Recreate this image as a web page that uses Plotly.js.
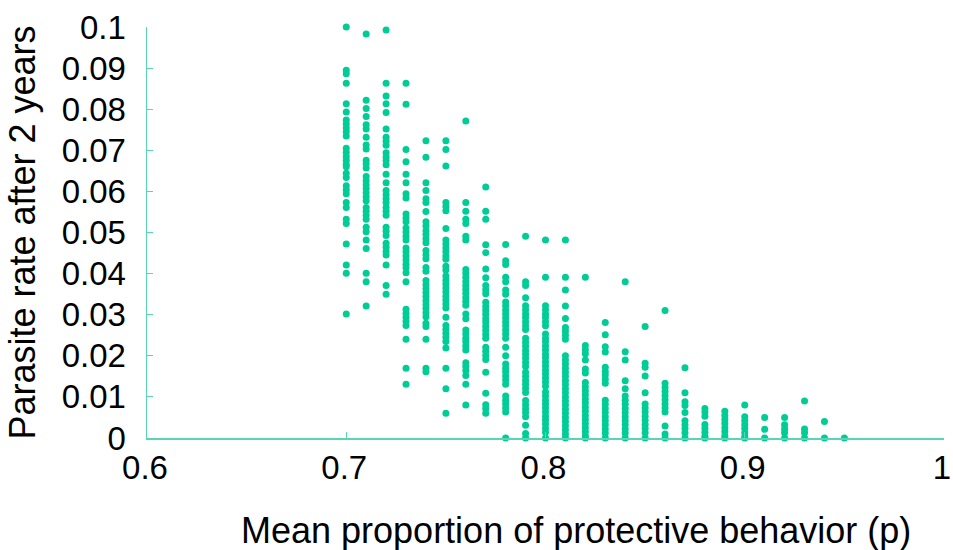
<!DOCTYPE html>
<html>
<head>
<meta charset="utf-8">
<script src="https://cdn.plot.ly/plotly-3.0.1.min.js"></script>
<style>html,body{margin:0;padding:0;background:#fff;}#chart{width:953px;height:550px;}</style>
</head>
<body>
<div id="chart"></div>
<script>
// Mean proportion of protective behavior (p) for each column of points
const pLevels = [0.70, 0.71, 0.72, 0.73, 0.74, 0.75, 0.76, 0.77, 0.78, 0.79, 0.80, 0.81, 0.82,
                 0.83, 0.84, 0.85, 0.86, 0.87, 0.88, 0.89, 0.90, 0.91, 0.92, 0.93, 0.94, 0.95];

// Parasite rate after 2 years, one array per p level
const r070 = [0.100, 0.0895, 0.0886, 0.0863, 0.0813, 0.0793, 0.0774, 0.0764, 0.0754, 0.0745, 0.0735, 0.0705, 0.0695, 0.0685, 0.0676, 0.0666, 0.0660, 0.0644, 0.0634, 0.0614, 0.0604, 0.0594, 0.0573, 0.0561, 0.0532, 0.0522, 0.0472, 0.0421, 0.0401, 0.0302];
const r071 = [0.0983, 0.0822, 0.0802, 0.0782, 0.0762, 0.0752, 0.0732, 0.0713, 0.0703, 0.0676, 0.0667, 0.0657, 0.0636, 0.0626, 0.0616, 0.0607, 0.0597, 0.0587, 0.0577, 0.0561, 0.0552, 0.0542, 0.0532, 0.0513, 0.0502, 0.0482, 0.0461, 0.0401, 0.0380, 0.0321];
const r072 = [0.0993, 0.0863, 0.0832, 0.0813, 0.0792, 0.0752, 0.0732, 0.0722, 0.0712, 0.0694, 0.0684, 0.0675, 0.0665, 0.0642, 0.0621, 0.0602, 0.0592, 0.0582, 0.0573, 0.0561, 0.0552, 0.0542, 0.0513, 0.0503, 0.0493, 0.0474, 0.0464, 0.0454, 0.0445, 0.0421, 0.0371, 0.0350];
const r073 = [0.0863, 0.0812, 0.0702, 0.0672, 0.0642, 0.0621, 0.0594, 0.0584, 0.0545, 0.0535, 0.0526, 0.0511, 0.0501, 0.0491, 0.0482, 0.0462, 0.0453, 0.0443, 0.0433, 0.0423, 0.0414, 0.0402, 0.0380, 0.0313, 0.0303, 0.0294, 0.0284, 0.0274, 0.0240, 0.0170, 0.0131];
const r074 = [0.0723, 0.0683, 0.0621, 0.0602, 0.0582, 0.0573, 0.0551, 0.0526, 0.0516, 0.0504, 0.0495, 0.0485, 0.0475, 0.0456, 0.0446, 0.0436, 0.0415, 0.0406, 0.0383, 0.0373, 0.0363, 0.0354, 0.0344, 0.0334, 0.0324, 0.0315, 0.0305, 0.0295, 0.0279, 0.0271, 0.0240, 0.0170, 0.0161];
const r075 = [0.0723, 0.0702, 0.0662, 0.0573, 0.0563, 0.0553, 0.0510, 0.0482, 0.0472, 0.0462, 0.0453, 0.0443, 0.0435, 0.0418, 0.0409, 0.0394, 0.0384, 0.0375, 0.0365, 0.0355, 0.0345, 0.0336, 0.0326, 0.0316, 0.0294, 0.0274, 0.0264, 0.0255, 0.0245, 0.0235, 0.0219, 0.0170, 0.0120, 0.0060];
const r076 = [0.0771, 0.0573, 0.0552, 0.0532, 0.0522, 0.0491, 0.0482, 0.0410, 0.0401, 0.0391, 0.0381, 0.0371, 0.0362, 0.0352, 0.0342, 0.0333, 0.0323, 0.0302, 0.0290, 0.0263, 0.0253, 0.0243, 0.0234, 0.0224, 0.0214, 0.0183, 0.0174, 0.0164, 0.0152, 0.0131, 0.0080];
const r077 = [0.0611, 0.0552, 0.0532, 0.0470, 0.0451, 0.0411, 0.0390, 0.0371, 0.0361, 0.0351, 0.0330, 0.0320, 0.0311, 0.0301, 0.0291, 0.0282, 0.0272, 0.0262, 0.0252, 0.0243, 0.0221, 0.0211, 0.0201, 0.0191, 0.0160, 0.0109, 0.0081, 0.0071, 0.0060];
const r078 = [0.0471, 0.0431, 0.0422, 0.0391, 0.0380, 0.0360, 0.0350, 0.0331, 0.0321, 0.0311, 0.0302, 0.0292, 0.0282, 0.0273, 0.0263, 0.0253, 0.0243, 0.0221, 0.0200, 0.0180, 0.0170, 0.0161, 0.0151, 0.0141, 0.0131, 0.0102, 0.0092, 0.0083, 0.0073, 0.0063, 0.0000];
const r079 = [0.0491, 0.0380, 0.0371, 0.0341, 0.0322, 0.0312, 0.0302, 0.0293, 0.0283, 0.0273, 0.0264, 0.0243, 0.0233, 0.0223, 0.0213, 0.0204, 0.0194, 0.0184, 0.0174, 0.0160, 0.0150, 0.0140, 0.0131, 0.0121, 0.0111, 0.0091, 0.0081, 0.0071, 0.0062, 0.0052, 0.0031, 0.0011, 0.0000];
const r080 = [0.0482, 0.0391, 0.0322, 0.0312, 0.0302, 0.0293, 0.0283, 0.0273, 0.0253, 0.0243, 0.0234, 0.0224, 0.0214, 0.0204, 0.0195, 0.0185, 0.0175, 0.0165, 0.0156, 0.0146, 0.0136, 0.0126, 0.0112, 0.0102, 0.0092, 0.0083, 0.0073, 0.0063, 0.0053, 0.0044, 0.0034, 0.0024, 0.0014, 0.0000];
const r081 = [0.0482, 0.0391, 0.0360, 0.0321, 0.0291, 0.0269, 0.0260, 0.0250, 0.0240, 0.0200, 0.0190, 0.0180, 0.0170, 0.0160, 0.0150, 0.0140, 0.0130, 0.0120, 0.0110, 0.0100, 0.0090, 0.0080, 0.0070, 0.0060, 0.0050, 0.0040, 0.0030, 0.0020, 0.0010, 0.0000];
const r082 = [0.0391, 0.0225, 0.0215, 0.0205, 0.0190, 0.0168, 0.0158, 0.0135, 0.0125, 0.0115, 0.0105, 0.0095, 0.0085, 0.0075, 0.0065, 0.0055, 0.0045, 0.0035, 0.0025, 0.0015, 0.0005, 0.0000];
const r083 = [0.0281, 0.0251, 0.0222, 0.0209, 0.0172, 0.0162, 0.0153, 0.0143, 0.0133, 0.0092, 0.0082, 0.0072, 0.0062, 0.0052, 0.0042, 0.0032, 0.0022, 0.0012, 0.0000];
const r084 = [0.0380, 0.0210, 0.0190, 0.0139, 0.0120, 0.0102, 0.0092, 0.0082, 0.0072, 0.0062, 0.0052, 0.0042, 0.0032, 0.0022, 0.0012, 0.0000];
const r085 = [0.0271, 0.0182, 0.0172, 0.0151, 0.0110, 0.0083, 0.0073, 0.0063, 0.0053, 0.0043, 0.0033, 0.0023, 0.0013, 0.0000];
const r086 = [0.0310, 0.0133, 0.0123, 0.0113, 0.0103, 0.0093, 0.0083, 0.0073, 0.0063, 0.0029, 0.0010, 0.0000];
const r087 = [0.0171, 0.0110, 0.0088, 0.0079, 0.0062, 0.0042, 0.0032, 0.0023, 0.0013, 0.0000];
const r088 = [0.0072, 0.0063, 0.0053, 0.0033, 0.0024, 0.0014, 0.0004, 0.0000];
const r089 = [0.0065, 0.0055, 0.0045, 0.0035, 0.0025, 0.0015, 0.0005, 0.0000];
const r090 = [0.0080, 0.0052, 0.0042, 0.0032, 0.0023, 0.0013, 0.0003, 0.0000];
const r091 = [0.0050, 0.0021, 0.0000];
const r092 = [0.0050, 0.0032, 0.0022, 0.0013, 0.0000];
const r093 = [0.0090, 0.0022, 0.0013, 0.0000];
const r094 = [0.0040, 0.0000];
const r095 = [0.0000];

const rateColumns = [r070, r071, r072, r073, r074, r075, r076, r077, r078, r079, r080, r081, r082,
                     r083, r084, r085, r086, r087, r088, r089, r090, r091, r092, r093, r094, r095];

// Axis ticks
const xTickVals = [0.6, 0.7, 0.8, 0.9, 1.0];
const xTickText = ['0.6', '0.7', '0.8', '0.9', '1'];
const yTickVals = [0, 0.01, 0.02, 0.03, 0.04, 0.05, 0.06, 0.07, 0.08, 0.09, 0.1];
const yTickText = ['0', '0.01', '0.02', '0.03', '0.04', '0.05', '0.06', '0.07', '0.08', '0.09', '0.1'];

const xTitle = 'Mean proportion of protective behavior (p)';
const yTitle = 'Parasite rate after 2 years';

const xs = [], ys = [];
rateColumns.forEach((col, i) => {
  col.forEach(v => { xs.push(pLevels[i]); ys.push(v); });
});

const axisColor = 'rgb(88,214,178)';
const fam = 'Liberation Sans, Arial, sans-serif';

const trace = {
  type: 'scatter',
  mode: 'markers',
  x: xs,
  y: ys,
  cliponaxis: false,
  marker: {color: 'rgb(0,204,150)', size: 7, line: {width: 0}},
  hoverinfo: 'x+y'
};

const layout = {
  width: 953,
  height: 550,
  margin: {l: 147, r: 9, t: 27, b: 112},
  paper_bgcolor: '#fff',
  plot_bgcolor: '#fff',
  showlegend: false,
  font: {family: fam, color: '#000'},
  xaxis: {
    range: [0.6, 1.0],
    tickmode: 'array',
    tickvals: xTickVals,
    ticktext: xTickText,
    showgrid: false,
    zeroline: false,
    showline: true,
    linecolor: axisColor,
    linewidth: 1.5,
    ticks: 'inside',
    ticklen: 6,
    tickcolor: axisColor,
    tickwidth: 1,
    ticklabelstandoff: 0,
    ticklabelshift: -2,
    ticklabeloverflow: 'allow',
    tickfont: {size: 33, family: fam, color: '#000'}
  },
  yaxis: {
    range: [0, 0.1],
    tickmode: 'array',
    tickvals: yTickVals,
    ticktext: yTickText,
    showgrid: false,
    zeroline: false,
    showline: true,
    linecolor: axisColor,
    linewidth: 1.5,
    ticks: 'inside',
    ticklen: 6,
    tickcolor: axisColor,
    tickwidth: 1,
    ticklabelstandoff: 13,
    tickfont: {size: 33, family: fam, color: '#000'},
    title: {text: yTitle, font: {size: 36, family: fam, color: '#000'}, standoff: 15}
  },
  annotations: [{
    text: xTitle,
    xref: 'paper', yref: 'paper',
    x: (576 - 147) / (944 - 147),
    y: 0, yshift: -70,
    xanchor: 'center', yanchor: 'top',
    showarrow: false,
    font: {size: 36, family: fam, color: '#000'}
  }]
};

Plotly.newPlot('chart', [trace], layout, {displayModeBar: false, staticPlot: true});
</script>
</body>
</html>
